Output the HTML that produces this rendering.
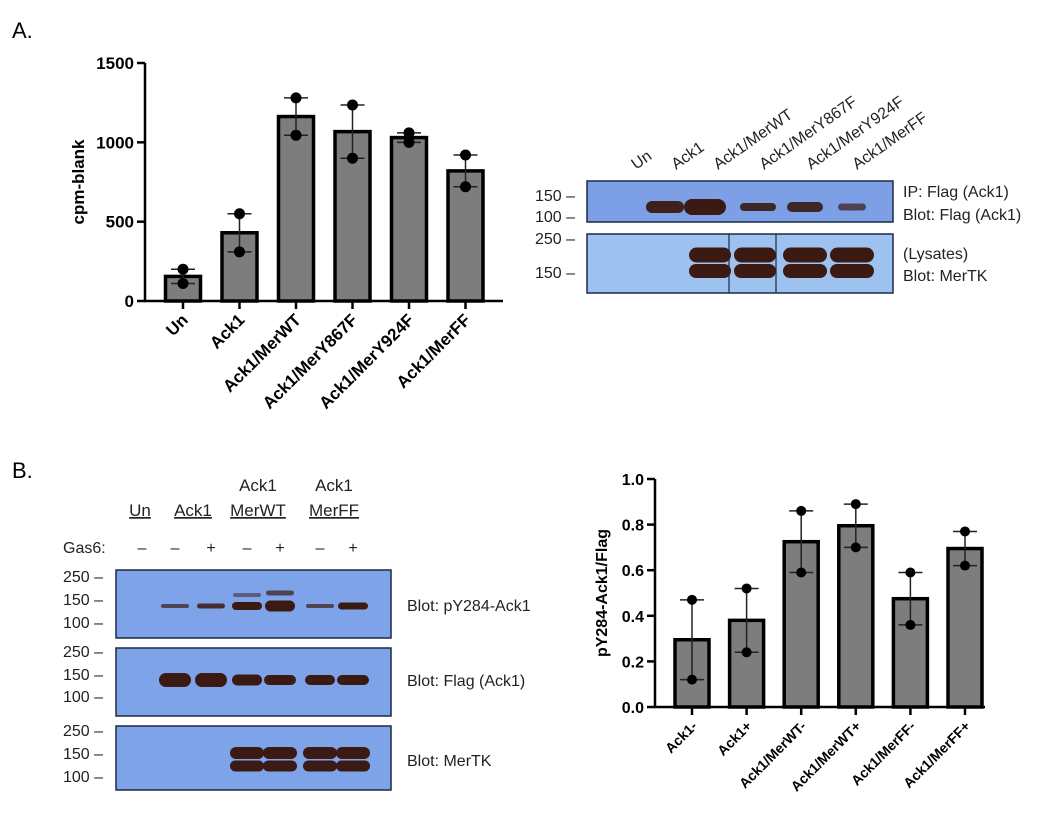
<!DOCTYPE html>
<html><head><meta charset="utf-8"><style>
body{margin:0;background:#fff;}
#root{position:relative;width:1050px;height:821px;overflow:hidden;font-family:"Liberation Sans",sans-serif;}
svg{position:absolute;left:0;top:0;}
</style></head><body>
<div id="root">
<svg id="fig" width="1050" height="821"></svg>
</div>
<script>
// ---- Chart A data ----
const catsA = ["Un","Ack1","Ack1/MerWT","Ack1/MerY867F","Ack1/MerY924F","Ack1/MerFF"];
const ptsA1 = [200,550,1280,1235,1000,920];
const ptsA2 = [110,310,1045,900,1060,720];
const ticksA = [0,500,1000,1500];
// ---- Chart B data ----
const catsB = ["Ack1-","Ack1+","Ack1/MerWT-","Ack1/MerWT+","Ack1/MerFF-","Ack1/MerFF+"];
const ptsB1 = [0.47,0.52,0.86,0.89,0.59,0.77];
const ptsB2 = [0.12,0.24,0.59,0.70,0.36,0.62];
const ticksB = [0.0,0.2,0.4,0.6,0.8,1.0];
const tickLabB = ["0.0","0.2","0.4","0.6","0.8","1.0"];

const NS="http://www.w3.org/2000/svg";
const svg=document.getElementById('fig');
function mk(tag,attrs,parent){const e=document.createElementNS(NS,tag);for(const k in attrs)e.setAttribute(k,attrs[k]);(parent||svg).appendChild(e);return e;}
function txt(x,y,s,attrs,name){const e=mk('text',Object.assign({x:x,y:y},attrs));e.textContent=s;


return e;}

function barChart(cfg){
  const g=mk('g',{});
  
  
  const y=v=>cfg.y0-(v-cfg.vmin)/(cfg.vmax-cfg.vmin)*(cfg.y0-cfg.y1);
  const x=i=>cfg.x0c+i*cfg.step;
  cfg.cats.forEach((c,i)=>{
    const a=cfg.p1[i],b=cfg.p2[i],m=(a+b)/2,hi=Math.max(a,b),lo=Math.min(a,b);
    const r=mk('rect',{x:x(i)-cfg.bw/2,y:y(m),width:cfg.bw,height:cfg.y0-y(m),fill:'#7d7d7d',stroke:'#000','stroke-width':3.5},g);
    
    
    const e=mk('path',{d:`M${x(i)},${y(lo)}V${y(hi)}M${x(i)-12},${y(hi)}h24M${x(i)-12},${y(lo)}h24`,stroke:'#222','stroke-width':1.5,fill:'none'},g);
    
    
    [a,b].forEach(v=>{const d=mk('circle',{cx:x(i),cy:y(v),r:cfg.r,fill:'#000'},g);
      
      });
    mk('line',{x1:x(i),x2:x(i),y1:cfg.y0,y2:cfg.y0+8,stroke:'#000','stroke-width':2.5},g);
    const t=txt(x(i)+6,cfg.y0+20,c,{'font-size':cfg.xfs,'font-weight':'bold','text-anchor':'end',transform:`rotate(-45 ${x(i)+6} ${cfg.y0+20})`},'x-tick-label');
    g.appendChild(t);
  });
  mk('path',{d:`M${cfg.ax},${cfg.y1}V${cfg.y0}H${cfg.xend}`,stroke:'#000','stroke-width':2.5,fill:'none'},g);
  cfg.ticks.forEach((v,i)=>{mk('line',{x1:cfg.ax-8,x2:cfg.ax,y1:y(v),y2:y(v),stroke:'#000','stroke-width':2.5},g);
    g.appendChild(txt(cfg.ax-11,y(v)+6,cfg.tl[i],{'font-size':cfg.fs,'font-weight':'bold','text-anchor':'end'},'y-tick-label'));});
  const yt=txt(0,0,cfg.title,{'font-size':cfg.fs,'font-weight':'bold','text-anchor':'middle',transform:`translate(${cfg.tx},${(cfg.y0+cfg.y1)/2}) rotate(-90)`},'y-axis-title');
  g.appendChild(yt);
}
barChart({name:'chart-a',cats:catsA,p1:ptsA1,p2:ptsA2,ticks:ticksA,tl:ticksA.map(String),vmin:0,vmax:1500,y0:301,y1:63,ax:145,xend:503,x0c:183,step:56.5,bw:35,r:5.5,fs:17,xfs:17,title:'cpm-blank',tx:84});
barChart({name:'chart-b',cats:catsB,p1:ptsB1,p2:ptsB2,ticks:ticksB,tl:tickLabB,vmin:0,vmax:1,y0:707,y1:479,ax:655,xend:985,x0c:692,step:54.6,bw:34,r:5,fs:16,xfs:14,title:'pY284-Ack1/Flag',tx:607});

// panel letters
txt(12,38,'A.',{'font-size':22},'panel-label-a');
txt(12,478,'B.',{'font-size':22},'panel-label-b');

function box(x,y,w,h,fill,name){const r=mk('rect',{x:x,y:y,width:w,height:h,fill:fill,stroke:'#1a2a44','stroke-width':1.5});

}
function band(cx,cy,w,h,op){const e=mk('rect',{x:cx-w/2,y:cy-h/2,width:w,height:h,rx:h/2,fill:'#3a1a12',opacity:op});

}
const reg={'font-size':16,fill:'#222'};

// ---- A blots ----
box(587,181,306,41,'#7c9fe6','ip-flag-blot');
box(587,234,306,59,'#9dc2f0','lysate-mertk-blot');
mk('line',{x1:729,x2:729,y1:234,y2:293,stroke:'#1a2a44','stroke-width':1.2});
mk('line',{x1:776,x2:776,y1:234,y2:293,stroke:'#1a2a44','stroke-width':1.2});
[[665,38,12,0.95],[705,42,16,1],[758,36,8,0.9],[805,36,10,0.9],[852,28,7,0.7]].forEach(b=>band(b[0],207,b[1],b[2],b[3]));
[[710,42],[755,42],[805,44],[852,44]].forEach(b=>{band(b[0],255,b[1],15,1);band(b[0],271,b[1],14,1);});
['Un','Ack1','Ack1/MerWT','Ack1/MerY867F','Ack1/MerY924F','Ack1/MerFF'].forEach((s,i)=>{const xx=[636,676,718,764,811,857][i];
  txt(xx,170,s,Object.assign({},reg,{transform:`rotate(-35 ${xx} 170)`}),'lane-label');});
[['150 –',201],['100 –',222],['250 –',244],['150 –',278]].forEach(a=>txt(535,a[1],a[0],reg,'mw-marker'));
txt(903,197,'IP: Flag (Ack1)',reg,'blot-label');
txt(903,220,'Blot: Flag (Ack1)',reg,'blot-label');
txt(903,259,'(Lysates)',reg,'blot-label');
txt(903,281,'Blot: MerTK',reg,'blot-label');

// ---- B blots ----
box(116,570,275,68,'#7ea3e8','py284-blot');
box(116,648,275,68,'#7ea3e8','flag-blot');
box(116,726,275,64,'#7ea3e8','mertk-blot');
const lanes=[142,175,211,247,280,320,353];
[[175,28,4,0.7],[211,28,5,0.85],[247,30,8,1],[280,30,11,1],[320,28,4,0.7],[353,30,7,1]].forEach(b=>band(b[0],606,b[1],b[2],b[3]));
band(247,595,28,4,0.5);band(280,593,28,5,0.7);
[[175,32,14],[211,32,14],[247,30,11],[280,32,10],[320,30,10],[353,32,10]].forEach(b=>band(b[0],680,b[1],b[2],1));
[247,280,320,353].forEach(c=>{band(c,753,34,12,1);band(c,766,34,11,1);});
['–','–','+','–','+','–','+'].forEach((s,i)=>txt(lanes[i],553,s,Object.assign({},reg,{'text-anchor':'middle'}),'gas6-sign'));
txt(63,553,'Gas6:',reg,'gas6-label');
[['Un',140],['Ack1',193],['MerWT',258],['MerFF',334]].forEach(a=>txt(a[1],516,a[0],Object.assign({},reg,{'font-size':17,'text-anchor':'middle','text-decoration':'underline'}),'group-label'));
txt(258,491,'Ack1',Object.assign({},reg,{'font-size':17,'text-anchor':'middle'}),'group-label');
txt(334,491,'Ack1',Object.assign({},reg,{'font-size':17,'text-anchor':'middle'}),'group-label');
[577,600,623,652,675,697,731,754,777].forEach((yy,i)=>txt(63,yy+5,['250 –','150 –','100 –'][i%3],reg,'mw-marker'));
txt(407,611,'Blot: pY284-Ack1',reg,'blot-label');
txt(407,686,'Blot: Flag (Ack1)',reg,'blot-label');
txt(407,766,'Blot: MerTK',reg,'blot-label');
</script>
</body></html>
